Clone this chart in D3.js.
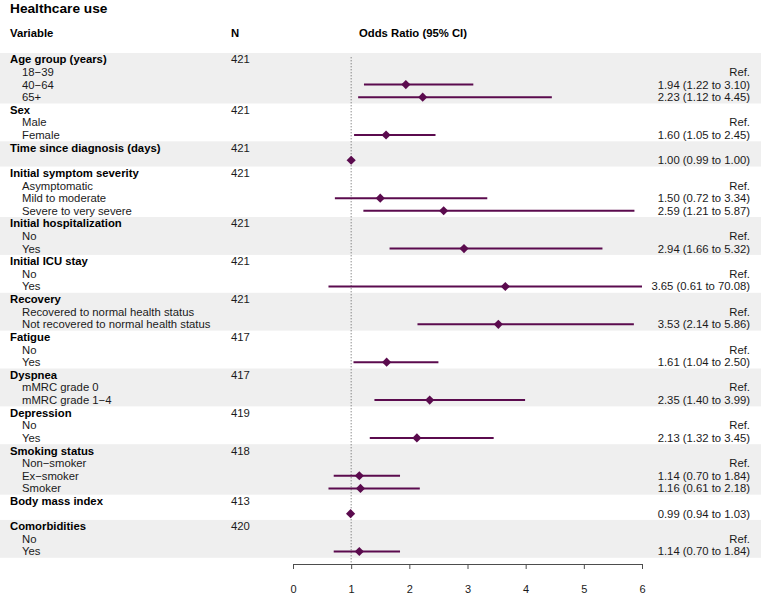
<!DOCTYPE html>
<html><head><meta charset="utf-8">
<script src="https://cdn.jsdelivr.net/npm/d3@7"></script>
<style>body{margin:0;background:#fff}svg{display:block;font-family:"Liberation Sans",Arial,sans-serif}</style>
</head><body>
<script>
const title = "Healthcare use";
const headers = ["Variable", "N", "Odds Ratio (95% CI)"];
const variables = ["Age group (years)", "Sex", "Time since diagnosis (days)", "Initial symptom severity",
  "Initial hospitalization", "Initial ICU stay", "Recovery", "Fatigue", "Dyspnea", "Depression",
  "Smoking status", "Body mass index", "Comorbidities"];
const nValues = [421, 421, 421, 421, 421, 421, 421, 417, 417, 419, 418, 413, 420];
const levelLabels = [
  ["18\u221239", "40\u221264", "65+"],
  ["Male", "Female"],
  [""],
  ["Asymptomatic", "Mild to moderate", "Severe to very severe"],
  ["No", "Yes"],
  ["No", "Yes"],
  ["Recovered to normal health status", "Not recovered to normal health status"],
  ["No", "Yes"],
  ["mMRC grade 0", "mMRC grade 1\u22124"],
  ["No", "Yes"],
  ["Non\u2212smoker", "Ex\u2212smoker", "Smoker"],
  [""],
  ["No", "Yes"]
];
const estimates = [[null,1.94,2.23],[null,1.60],[1.00],[null,1.50,2.59],[null,2.94],[null,3.65],[null,3.53],[null,1.61],[null,2.35],[null,2.13],[null,1.14,1.16],[0.99],[null,1.14]];
const lowerCI = [[null,1.22,1.12],[null,1.05],[0.99],[null,0.72,1.21],[null,1.66],[null,0.61],[null,2.14],[null,1.04],[null,1.40],[null,1.32],[null,0.70,0.61],[0.94],[null,0.70]];
const upperCI = [[null,3.10,4.45],[null,2.45],[1.00],[null,3.34,5.87],[null,5.32],[null,70.08],[null,5.86],[null,2.50],[null,3.99],[null,3.45],[null,1.84,2.18],[1.03],[null,1.84]];
const xTicks = [0, 1, 2, 3, 4, 5, 6];

const W = 761, H = 596;
const color = "#5b0b4e";
const top0 = 53, rowH = 12.62;
const svg = d3.select("body").append("svg").attr("width", W).attr("height", H);

// build rows
const rows = [];
const groups = [];
variables.forEach((v, i) => {
  const start = rows.length;
  rows.push({label: v, bold: true, n: nValues[i]});
  levelLabels[i].forEach((l, j) => {
    const e = estimates[i][j];
    rows.push({label: l, bold: false, est: e, lo: lowerCI[i][j], hi: upperCI[i][j],
      txt: e == null ? "Ref." : `${e.toFixed(2)} (${lowerCI[i][j].toFixed(2)} to ${upperCI[i][j].toFixed(2)})`});
  });
  groups.push({start, end: rows.length, idx: i});
});

const y = i => top0 + rowH * i + rowH / 2;
const x = d3.scaleLinear().domain([0, 6]).range([293, 642]);

// bands
svg.append("g").selectAll("rect").data(groups.filter(g => g.idx % 2 === 0)).join("rect")
  .attr("x", 0).attr("width", W).attr("y", g => top0 + g.start * rowH)
  .attr("height", g => (g.end - g.start) * rowH).attr("fill", "#efefef");

// title & headers
svg.append("text").attr("x", 10).attr("y", 13).attr("font-size", 13.7).attr("font-weight", "bold").text(title);
const hy = 37;
svg.append("text").attr("x", 10).attr("y", hy).attr("font-size", 11.3).attr("font-weight", "bold").text(headers[0]);
svg.append("text").attr("x", 231).attr("y", hy).attr("font-size", 11.3).attr("font-weight", "bold").text(headers[1]);
svg.append("text").attr("x", 359).attr("y", hy).attr("font-size", 11.3).attr("font-weight", "bold").text(headers[2]);

// labels
const lab = svg.append("g").attr("font-size", 11.3).attr("fill", "#1a1a1a");
rows.forEach((r, i) => {
  if (r.label) lab.append("text").attr("x", r.bold ? 10 : 22).attr("y", y(i) + 4)
    .attr("font-weight", r.bold ? "bold" : "normal").attr("fill", r.bold ? "#000" : "#1a1a1a").text(r.label);
  if (r.n != null) lab.append("text").attr("x", 231).attr("y", y(i) + 4).text(r.n);
  if (r.txt) lab.append("text").attr("x", 750).attr("y", y(i) + 4).attr("text-anchor", "end").text(r.txt);
});

// reference line
svg.append("line").attr("x1", x(1)).attr("x2", x(1)).attr("y1", y(0) - 2).attr("y2", 564)
  .attr("stroke", "#333").attr("stroke-width", 0.8).attr("stroke-dasharray", "1,2");

// CIs and points
const pts = rows.map((r, i) => ({...r, i})).filter(r => r.est != null);
const [d0, d1] = x.domain();
svg.append("g").selectAll("line").data(pts).join("line")
  .attr("x1", d => x(Math.max(d0, d.lo))).attr("x2", d => x(Math.min(d1, d.hi)))
  .attr("y1", d => y(d.i)).attr("y2", d => y(d.i))
  .attr("stroke", color).attr("stroke-width", 2);
svg.append("g").selectAll("path").data(pts).join("path")
  .attr("d", d3.symbol(d3.symbolSquare, 42))
  .attr("transform", d => `translate(${x(d.est)},${y(d.i)}) rotate(45)`)
  .attr("fill", color);

// axis
const ax = svg.append("g").attr("transform", "translate(0,564)")
  .call(d3.axisBottom(x).tickValues(xTicks).tickFormat(d3.format("d")).tickSize(5).tickSizeOuter(0).tickPadding(16));
ax.selectAll("path,line").attr("stroke", "#4d4d4d");
ax.selectAll("text").attr("font-size", 11).attr("fill", "#1a1a1a").attr("font-family", '"Liberation Sans",Arial,sans-serif');
</script>
</body></html>
